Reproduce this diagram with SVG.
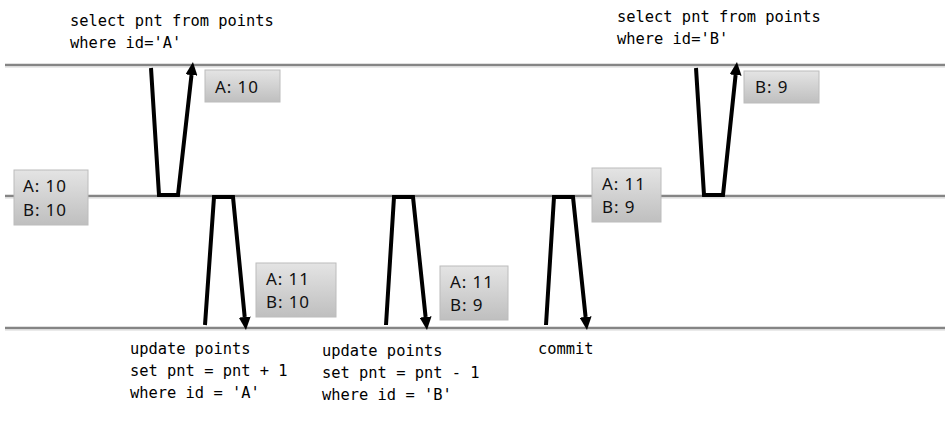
<svg xmlns="http://www.w3.org/2000/svg" width="952" height="429" viewBox="0 0 952 429">
<style>
.lane{stroke:#858585;stroke-width:2.5;fill:none}
.lane2{stroke:#d6d6d6;stroke-width:1;fill:none}
.box{fill:url(#g);stroke:#bcbcbc;stroke-width:1}
.bt{font-family:"Noto Sans",sans-serif;font-size:17px;letter-spacing:0.9px;fill:#111}
.code{font-family:"DejaVu Sans Mono",monospace;font-size:15.4px;fill:#000}
.conn{fill:none;stroke:#000;stroke-width:4;stroke-linejoin:miter;marker-end:url(#ah)}
</style>
<defs>
<linearGradient id="g" x1="0" y1="0" x2="0" y2="1">
<stop offset="0" stop-color="#e4e4e4"/>
<stop offset="1" stop-color="#bfbfbf"/>
</linearGradient>
<marker id="ah" markerUnits="userSpaceOnUse" markerWidth="14" markerHeight="12" refX="0" refY="6" orient="auto" viewBox="0 0 14 12">
<path d="M0,0 L13,6 L0,12 z" fill="#000"/>
</marker>
</defs>
<rect width="952" height="429" fill="#fff"/>
<g id="lanes">
<line class="lane" x1="5" y1="65" x2="945" y2="65"/>
<line class="lane2" x1="5" y1="67" x2="945" y2="67"/>
<line class="lane" x1="5" y1="196" x2="945" y2="196"/>
<line class="lane2" x1="5" y1="198" x2="945" y2="198"/>
<line class="lane" x1="5" y1="328" x2="945" y2="328"/>
<line class="lane2" x1="5" y1="330" x2="945" y2="330"/>
</g>
<g id="connectors">
<path class="conn" d="M151,68 L159,195 L178,195 L191.5,75"/>
<path class="conn" d="M205,325 L214,197 L233,197 L244.7,317"/>
<path class="conn" d="M386,325 L394,197 L413,197 L425.6,317"/>
<path class="conn" d="M546,325 L554,197 L573,197 L585.6,317"/>
<path class="conn" d="M696,68 L704,195 L723,195 L735.6,75"/>
</g>
<g id="box1"><rect class="box" x="205" y="70" width="75" height="32"/><text class="bt" x="215" y="93">A: 10</text></g>
<g id="box2"><rect class="box" x="14" y="170" width="74" height="55"/><text class="bt" x="23" y="192">A: 10</text><text class="bt" x="23" y="216">B: 10</text></g>
<g id="box3"><rect class="box" x="256" y="263" width="80" height="54"/><text class="bt" x="266" y="285">A: 11</text><text class="bt" x="266" y="308">B: 10</text></g>
<g id="box4"><rect class="box" x="440" y="266" width="68" height="54"/><text class="bt" x="450" y="288">A: 11</text><text class="bt" x="450" y="311">B: 9</text></g>
<g id="box5"><rect class="box" x="592" y="168" width="69" height="54"/><text class="bt" x="602" y="190">A: 11</text><text class="bt" x="602" y="213">B: 9</text></g>
<g id="box6"><rect class="box" x="744" y="71" width="75" height="32"/><text class="bt" x="755" y="93">B: 9</text></g>
<g id="q1"><text class="code" x="70" y="26">select pnt from points</text><text class="code" x="70" y="48">where id='A'</text></g>
<g id="q2"><text class="code" x="617" y="22">select pnt from points</text><text class="code" x="617" y="44">where id='B'</text></g>
<g id="q3"><text class="code" x="130" y="354">update points</text><text class="code" x="130" y="376">set pnt = pnt + 1</text><text class="code" x="130" y="398">where id = 'A'</text></g>
<g id="q4"><text class="code" x="322" y="356">update points</text><text class="code" x="322" y="378">set pnt = pnt - 1</text><text class="code" x="322" y="400">where id = 'B'</text></g>
<g id="q5"><text class="code" x="538" y="354">commit</text></g>
</svg>
